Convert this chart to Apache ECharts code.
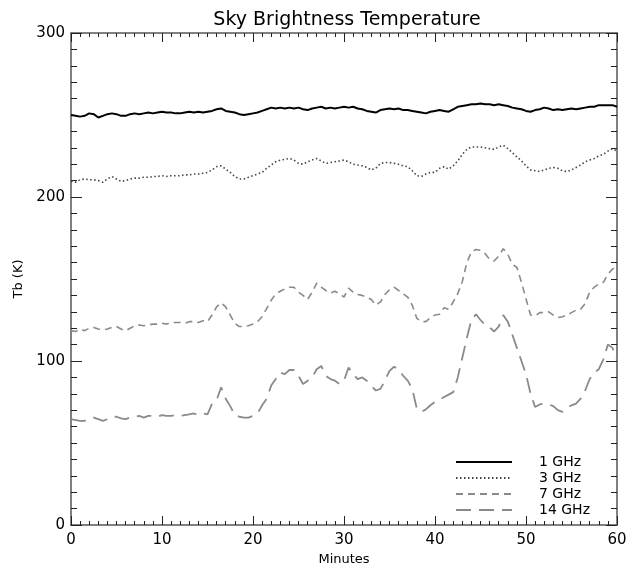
<!DOCTYPE html>
<html>
<head>
<meta charset="utf-8">
<script src="https://cdn.jsdelivr.net/npm/echarts@6/dist/echarts.min.js"></script>
<style>
  html, body { margin: 0; padding: 0; background: #fff; }
  #chart { width: 626px; height: 565px; }
</style>
</head>
<body>
<div id="chart"></div>
<script>
// time axis, minutes
const minutes = [
  0, 0.5, 1, 1.5, 2, 2.5, 3, 3.5, 4, 4.5,
  5, 5.5, 6, 6.5, 7, 7.5, 8, 8.5, 9, 9.5,
  10, 10.5, 11, 11.5, 12, 12.5, 13, 13.5, 14, 14.5,
  15, 15.5, 16, 16.5, 17, 17.5, 18, 18.5, 19, 19.5,
  20, 20.5, 21, 21.5, 22, 22.5, 23, 23.5, 24, 24.5,
  25, 25.5, 26, 26.5, 27, 27.5, 28, 28.5, 29, 29.5,
  30, 30.5, 31, 31.5, 32, 32.5, 33, 33.5, 34, 34.5,
  35, 35.5, 36, 36.5, 37, 37.5, 38, 38.5, 39, 39.5,
  40, 40.5, 41, 41.5, 42, 42.5, 43, 43.5, 44, 44.5,
  45, 45.5, 46, 46.5, 47, 47.5, 48, 48.5, 49, 49.5,
  50, 50.5, 51, 51.5, 52, 52.5, 53, 53.5, 54, 54.5,
  55, 55.5, 56, 56.5, 57, 57.5, 58, 58.5, 59, 59.5,
  60
]

// brightness temperature (K) per band
const tb1GHz = [
  250, 249.5, 249, 249.5, 251, 250.5, 248.5, 249.5, 250.5, 251,
  250.5, 249.5, 249.5, 250.5, 251, 250.5, 251, 251.5, 251, 251.5,
  252, 251.5, 251.5, 251, 251, 251.5, 252, 251.5, 252, 251.5,
  252, 252.5, 253.5, 254, 252.5, 252, 251.5, 250.5, 250, 250.5,
  251, 251.5, 252.5, 253.5, 254.5, 254, 254.5, 254, 254.5, 254,
  254.5, 253.5, 253, 254, 254.5, 255, 254, 254.5, 254, 254.5,
  255, 254.5, 255, 254, 253.5, 252.5, 252, 251.5, 253, 253.5,
  254, 253.5, 254, 253, 253, 252.5, 252, 251.5, 251, 252,
  252.5, 253, 252.5, 252, 253.5, 255, 255.5, 256, 256.5, 256.5,
  257, 256.5, 256.5, 256, 256.5, 256, 255.5, 254.5, 254, 253.5,
  252.5, 252, 253, 253.5, 254.5, 254, 253, 253.5, 253, 253.5,
  254, 253.5, 254, 254.5, 255, 255, 256, 256, 256, 256,
  255
]
const tb3GHz = [
  209.5, 209, 210.5, 211, 210.5, 210.5, 210, 209, 211, 212.5,
  211, 209.5, 210, 211, 211.5, 211.5, 212, 212, 212.5, 212.5,
  213, 212.5, 213, 213, 213, 213.5, 213.5, 214, 214, 214.5,
  215, 216.5, 218.5, 219, 217, 215, 212.5, 211, 211, 212,
  213, 214, 215, 217.5, 219.5, 221.5, 222.5, 223, 223.5, 222.5,
  220.5, 220, 221.5, 222.5, 223.5, 222, 220.5, 221, 221.5, 222,
  222.5, 221.5, 220, 219.5, 219, 218, 216.5, 217.5, 220.5, 221,
  221, 220.5, 220, 219, 218.5, 216, 213, 212.5, 214, 215,
  215, 217.5, 218.5, 217, 219, 222, 226, 229, 230.5, 230.5,
  230.5, 230, 229.5, 229, 230.5, 231.5, 229.5, 227, 224.5, 222,
  219, 216.5, 216, 215.5, 216.5, 217.5, 218, 217.5, 216, 215.5,
  216.5, 218, 219.5, 221.5, 222.5, 223.5, 225, 226, 228, 229.5,
  228
]
const tb7GHz = [
  118.5, 118, 119.5, 118.5, 120, 120.5, 119.5, 119, 119.5, 120.5,
  121, 119.5, 118.5, 120, 121.5, 122, 121.5, 122, 122.5, 122.5,
  123, 122.5, 123.5, 123.5, 123.5, 123, 124, 124, 123.5, 124.5,
  124, 128, 133, 135.5, 133, 128, 123, 121, 121, 121.5,
  122.5, 124, 127, 132, 137, 141, 142.5, 144, 145, 145,
  142, 140, 137.5, 142, 147.5, 145, 143, 141.5, 142.5, 141,
  139, 144.5, 142, 140.5, 140, 139, 137.5, 134, 136, 140.5,
  143.5, 145, 143, 141, 139, 134, 126, 124, 124, 126.5,
  128, 128.5, 132.5, 131.5, 136, 141, 148.5, 160, 166.5, 168,
  167.5, 165.5, 162, 161, 164, 168.5, 165, 159, 157, 148,
  138, 128, 127.5, 129.5, 129.5, 130, 128, 126.5, 127, 128,
  129.5, 131, 131.5, 135, 142, 145, 147, 148, 153, 156,
  158
]
const tb14GHz = [
  64.5, 64, 63.5, 63.5, 65, 65.5, 64.5, 63.5, 64.5, 66,
  66, 65, 64.5, 65.5, 66, 66.5, 65.5, 66.5, 66.5, 66,
  67, 66.5, 66.5, 67, 66.5, 67, 67.5, 68, 67, 68,
  67.5, 74, 76, 84, 77, 72.5, 67, 66, 65.5, 65.5,
  66.5, 68, 73, 77, 85, 89, 93, 92, 94.5, 94.5,
  91, 86, 88, 90, 95, 97, 91, 89, 88, 86,
  88, 96, 92, 89, 90, 88, 85, 82, 83, 88,
  94, 96.5, 95, 91, 88, 83, 71, 69, 70.5, 73,
  75, 76.5, 78, 79.5, 81, 90, 102, 114, 125, 128.5,
  125, 122, 120.5, 118, 121, 128, 124, 116, 108, 100,
  92, 80, 72, 73.5, 74, 73.5, 72.5, 70, 69, 71.5,
  73, 74, 77, 82, 89, 93, 95, 101, 110, 108,
  101
]

const bandNames = ['1 GHz', '3 GHz', '7 GHz', '14 GHz']

const toPairs = (vals) => minutes.map((m, i) => [m, vals[i]])

const chart = echarts.init(document.getElementById('chart'))

const fontFamily = 'DejaVu Sans'
const axisLineStyle = { color: '#808080', width: 2 }
const tickStyle = { color: '#222', width: 1 }

// shared frame settings for the four sides
const xFrame = {
  type: 'value',
  min: 0,
  max: 60,
  interval: 10,
  axisLine: { show: true, onZero: false, lineStyle: axisLineStyle },
  axisTick: { show: true, inside: true, length: 9, lineStyle: tickStyle },
  minorTick: { show: true, splitNumber: 10, length: 4, lineStyle: tickStyle },
  splitLine: { show: false },
  minorSplitLine: { show: false },
}
const yFrame = {
  type: 'value',
  min: 0,
  max: 300,
  interval: 100,
  axisLine: { show: true, onZero: false, lineStyle: axisLineStyle },
  axisTick: { show: true, inside: true, length: 11, lineStyle: tickStyle },
  minorTick: { show: true, splitNumber: 10, length: 6, lineStyle: tickStyle },
  splitLine: { show: false },
  minorSplitLine: { show: false },
}

chart.setOption({
  animation: false,
  backgroundColor: '#fff',
  textStyle: { fontFamily },
  title: {
    text: 'Sky Brightness Temperature',
    left: 342,
    textAlign: 'center',
    top: 6,
    textStyle: { fontSize: 19, fontWeight: 'normal', color: '#000', fontFamily },
  },
  grid: { left: 71, right: 9, top: 33, bottom: 40, outerBoundsMode: 'none' },
  legend: {
    orient: 'vertical',
    left: 450,
    top: 450,
    itemWidth: 56,
    itemHeight: 10,
    itemGap: 2,
    itemStyle: { opacity: 0 },
    textStyle: { fontSize: 14, lineHeight: 14, color: '#000', fontFamily, padding: [0, 0, 0, 22] },
    data: bandNames,
  },
  xAxis: [
    {
      ...xFrame,
      position: 'bottom',
      name: 'Minutes',
      nameLocation: 'middle',
      nameGap: 25,
      nameTextStyle: { fontSize: 13, color: '#000', fontFamily },
      axisLabel: { fontSize: 15, color: '#000', margin: 8, fontFamily },
    },
    { ...xFrame, position: 'top', axisLabel: { show: false } },
  ],
  yAxis: [
    {
      ...yFrame,
      position: 'left',
      name: 'Tb (K)',
      nameLocation: 'middle',
      nameGap: 46,
      nameTextStyle: { fontSize: 13, color: '#000', fontFamily },
      axisLabel: { fontSize: 15, color: '#000', margin: 6, fontFamily },
    },
    { ...yFrame, position: 'right', axisLabel: { show: false } },
  ],
  series: [
    {
      name: bandNames[0],
      type: 'line',
      symbol: 'none',
      data: toPairs(tb1GHz),
      lineStyle: { color: '#000', width: 2 },
      itemStyle: { color: '#000' },
    },
    {
      name: bandNames[1],
      type: 'line',
      symbol: 'none',
      data: toPairs(tb3GHz),
      lineStyle: { color: '#444', width: 1.6, type: [1.5, 2.5] },
      itemStyle: { color: '#444' },
    },
    {
      name: bandNames[2],
      type: 'line',
      symbol: 'none',
      data: toPairs(tb7GHz),
      lineStyle: { color: '#8a8a8a', width: 1.6, type: [7, 5] },
      itemStyle: { color: '#8a8a8a' },
    },
    {
      name: bandNames[3],
      type: 'line',
      symbol: 'none',
      data: toPairs(tb14GHz),
      lineStyle: { color: '#8a8a8a', width: 1.8, type: [15, 8] },
      itemStyle: { color: '#8a8a8a' },
    },
  ],
})
</script>
</body>
</html>
